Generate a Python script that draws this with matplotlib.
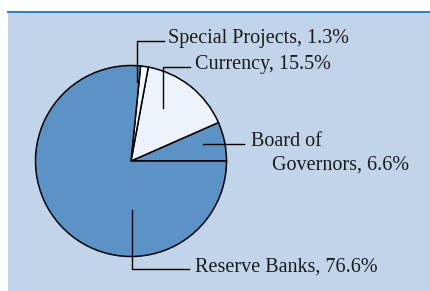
import matplotlib.pyplot as plt
from matplotlib.patches import Rectangle

# slices, counterclockwise from 3 o'clock
labels = ['Board of Governors, 6.6%', 'Currency, 15.5%', 'Special Projects, 1.3%', 'Reserve Banks, 76.6%']
shares = [6.6, 15.5, 1.3, 76.6]
colors = ['#5b93c6', '#edf3fa', '#f3f7fc', '#5b93c6']

W, H = 431, 291

def P(x, y):
    # pixel (top-left origin) -> data coords
    return x, H - y

fig = plt.figure(figsize=(W / 100, H / 100), dpi=100)
ax = fig.add_axes([0, 0, 1, 1])

# panel background + top rule
ax.add_patch(Rectangle((8, -10), W + 10, H - 12 + 10, facecolor='#c2d4e9', edgecolor='none', zorder=0))
ax.plot([8, W + 5], [H - 12, H - 12], color='#2f7dc0', lw=1.4, zorder=1)

ax.pie(shares, colors=colors, startangle=0, counterclock=True,
       center=P(131, 161), radius=95.5,
       wedgeprops=dict(edgecolor='black', linewidth=1.1), frame=True)
ax.set_xlim(0, W)
ax.set_ylim(0, H)
ax.set_aspect('auto')
ax.axis('off')

lc = dict(color='black', lw=1.0, zorder=5)
font = dict(family='Liberation Serif', fontsize=14.5, color='#1a1a1a', va='center', ha='left', zorder=6)

# Special Projects
ax.plot(*zip(P(137, 82), P(137, 41), P(164, 41)), **lc)
ax.text(*P(168, 39), labels[2], **font)
# Currency
ax.plot(*zip(P(163, 108), P(163, 67), P(190, 67)), **lc)
ax.text(*P(195, 65), labels[1], **font)
# Board of Governors
board_a, board_b = labels[0].split(' ', 2)[:2], labels[0].split(' ', 2)[2]
ax.plot(*zip(P(203, 144), P(244, 144)), **lc)
ax.text(*P(251, 142), ' '.join(board_a), **font)
ax.text(*P(272, 165), board_b, **font)
# Reserve Banks
ax.plot(*zip(P(132, 210), P(132, 269), P(189, 269)), **lc)
ax.text(*P(195, 267), labels[3], **font)

fig.savefig('out.png', dpi=100, facecolor='white')
